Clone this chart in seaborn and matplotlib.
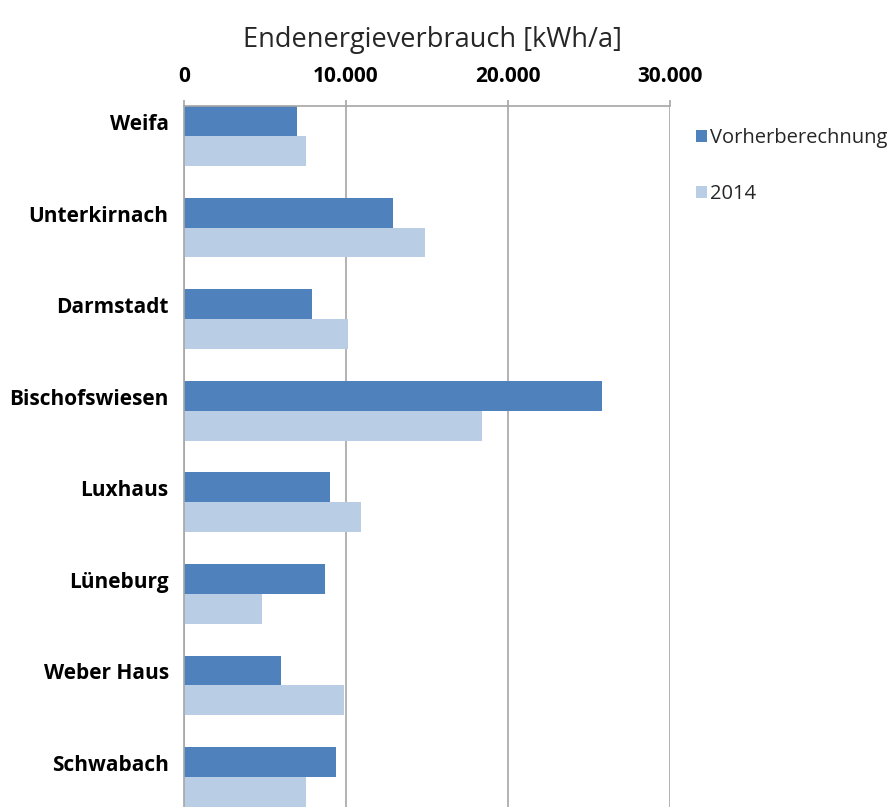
import numpy as np
import pandas as pd
import seaborn as sns
import matplotlib.pyplot as plt
import matplotlib.transforms as mtransforms
from matplotlib.ticker import FuncFormatter

orte = ['Weifa', 'Unterkirnach', 'Darmstadt', 'Bischofswiesen',
        'Luxhaus', 'Lüneburg', 'Weber Haus', 'Schwabach']
vorher = [7000, 12900, 7900, 25800, 9000, 8700, 6000, 9400]
jahr_2014 = [7500, 14900, 10100, 18400, 10900, 4800, 9900, 7500]
serien = ['Vorherberechnung', '2014']
farben = ['#4F81BD', '#B9CDE5']

df = pd.DataFrame({'Ort': orte * 2,
                   'Serie': [serien[0]] * len(orte) + [serien[1]] * len(orte),
                   'Wert': vorher + jahr_2014})

sns.set_style('white')
plt.rcParams['font.family'] = ['Open Sans', 'DejaVu Sans']

fig = plt.figure(figsize=(8.89, 8.07), dpi=100)
ax = fig.add_axes([184 / 889, 0, (670 - 184) / 889, 1 - 106 / 807])

sns.barplot(data=df, x='Wert', y='Ort', hue='Serie', orient='h',
            palette=farben, width=0.654, saturation=1, linewidth=0, ax=ax)

ax.set_xlim(0, 30000)
ax.set_ylim(7.327, -0.327)
ax.set_xticks([0, 10000, 20000, 30000])
ax.xaxis.set_major_formatter(FuncFormatter(lambda v, p: f'{int(v):,}'.replace(',', '.')))
ax.xaxis.tick_top()
ax.xaxis.set_label_position('top')
ax.set_xlabel('')
ax.set_ylabel('')
ax.grid(axis='x', color='#A6A6A6', linewidth=1.2)
ax.set_axisbelow(True)
for s in ['right', 'bottom']:
    ax.spines[s].set_visible(False)
for s in ['top', 'left']:
    ax.spines[s].set_color('#A6A6A6')
    ax.spines[s].set_linewidth(1.2)
ax.tick_params(axis='x', top=True, length=4, color='#A6A6A6', width=1.2,
               pad=10, labelsize=15)
ax.tick_params(axis='y', left=False, length=0, pad=11, labelsize=15)

# Excel setzt die Kategorienamen etwas oberhalb der Gruppenmitte
versatz = mtransforms.ScaledTranslation(0, 14 / 100, fig.dpi_scale_trans)
for t in ax.get_yticklabels():
    t.set_transform(t.get_transform() + versatz)
for t in ax.get_xticklabels() + ax.get_yticklabels():
    t.set_fontweight('bold')
    t.set_color('#000000')

fig.text(432 / 889, 1 - 40 / 807, 'Endenergieverbrauch [kWh/a]',
         ha='center', va='center', fontsize=19.5)

ax.legend_.remove()
handles, labels = ax.get_legend_handles_labels()
fig.legend(handles, labels, loc='upper left', bbox_to_anchor=(688 / 889, 1 - 120 / 807),
           frameon=False, fontsize=14.5, handlelength=0.55, handleheight=0.55,
           handletextpad=0.15, labelspacing=1.8, borderaxespad=0)

fig.savefig('out.png', dpi=100)
